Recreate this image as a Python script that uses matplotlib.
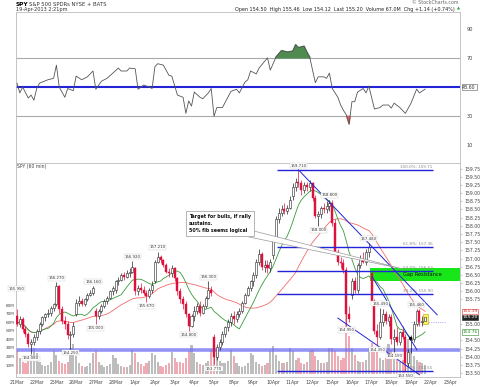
import matplotlib
matplotlib.use("Agg")
import matplotlib.pyplot as plt
from matplotlib.patches import Rectangle, Polygon
import numpy as np
import pandas as pd

# hourly bars, 21Mar .. 19Apr 2013 (7 bars per day, last day partial)
opens = [
    155.25, 155.00, 155.15, 154.85, 154.70, 154.40, 154.45,
    154.60, 154.80, 155.00, 155.20, 155.30, 155.35, 155.50,
    155.60, 156.15, 155.45, 155.10, 155.00, 154.65, 154.70,
    155.30, 155.65, 155.70, 155.60, 155.75, 155.90, 155.95,
    155.40, 155.25, 155.40, 155.55, 155.70, 155.80, 156.00,
    156.05, 156.30, 156.35, 156.50, 156.45, 156.55, 156.60,
    156.70, 156.00, 156.10, 156.05, 155.95, 155.85, 156.05,
    156.30, 156.90, 157.05, 156.95, 156.80, 156.60, 156.55,
    156.70, 156.40, 156.00, 155.75, 155.60, 155.30, 154.95,
    155.25, 155.40, 155.55, 155.35, 155.55, 155.80, 156.05,
    154.60, 154.00, 154.30, 154.45, 154.70, 154.90, 155.05,
    155.25, 155.15, 155.30, 155.40, 155.65, 155.90, 156.10,
    156.30, 156.50, 156.90, 157.15, 156.75, 156.80, 156.70,
    157.10, 157.60, 158.20, 158.40, 158.50, 158.45, 158.55,
    158.90, 159.20, 159.35, 159.30, 159.10, 159.25, 159.20,
    159.30, 158.85, 158.30, 158.35, 158.55, 158.50, 158.60,
    158.70, 158.10, 157.20, 156.90, 156.85, 156.65, 155.30,
    155.90, 156.30, 156.05, 156.80, 157.00, 156.90, 157.20,
    156.55, 155.70, 154.80, 154.60, 155.05, 155.30, 155.10,
    155.20, 154.55, 154.60, 154.45, 154.75, 154.60, 153.80,
    154.50, 154.55, 155.00, 155.40, 155.05, 155.10,
]
highs = [
    155.45, 155.25, 155.20, 154.95, 154.75, 154.55, 154.70,
    154.85, 155.05, 155.25, 155.35, 155.45, 155.55, 155.65,
    156.27, 156.20, 155.55, 155.25, 155.10, 154.80, 155.05,
    155.75, 155.85, 155.80, 155.80, 155.95, 156.05, 156.16,
    155.50, 155.45, 155.60, 155.75, 155.85, 156.05, 156.15,
    156.35, 156.45, 156.55, 156.60, 156.65, 156.70, 156.92,
    156.75, 156.20, 156.25, 156.15, 156.05, 156.10, 156.30,
    156.95, 157.21, 157.10, 157.00, 156.85, 156.70, 156.80,
    156.75, 156.45, 156.10, 155.85, 155.70, 155.35, 155.30,
    155.55, 155.65, 155.70, 155.60, 155.85, 156.30, 156.15,
    154.70, 154.40, 154.55, 154.80, 154.95, 155.15, 155.35,
    155.40, 155.40, 155.50, 155.70, 155.95, 156.15, 156.35,
    156.60, 157.00, 157.30, 157.20, 156.95, 156.95, 157.00,
    157.70, 158.30, 158.55, 158.65, 158.70, 158.65, 158.90,
    159.30, 159.45, 159.71, 159.40, 159.35, 159.35, 159.40,
    159.35, 158.95, 158.45, 158.60, 158.70, 158.75, 158.80,
    158.80, 158.20, 157.30, 157.05, 157.00, 156.75, 155.55,
    156.40, 156.45, 156.85, 157.10, 157.20, 157.30, 157.48,
    156.60, 155.75, 155.00, 155.49, 155.45, 155.40, 155.30,
    155.30, 154.85, 154.90, 154.80, 154.95, 154.70, 154.25,
    154.65, 155.10, 155.46, 155.45, 155.25, 155.25,
]
lows = [
    154.95, 154.90, 154.75, 154.60, 154.30, 154.08, 154.35,
    154.50, 154.70, 154.95, 155.10, 155.20, 155.25, 155.40,
    155.55, 155.35, 155.00, 154.85, 154.55, 154.25, 154.60,
    155.25, 155.55, 155.55, 155.55, 155.70, 155.85, 155.90,
    155.00, 155.15, 155.35, 155.50, 155.60, 155.75, 155.90,
    155.95, 156.20, 156.30, 156.35, 156.40, 156.45, 156.55,
    155.90, 155.90, 155.95, 155.90, 155.67, 155.80, 155.95,
    156.25, 156.85, 156.85, 156.75, 156.55, 156.45, 156.45,
    156.30, 155.90, 155.65, 155.45, 155.20, 154.80, 154.90,
    155.10, 155.30, 155.25, 155.30, 155.50, 155.75, 155.85,
    153.77, 153.90, 154.20, 154.35, 154.60, 154.80, 154.95,
    155.00, 155.05, 155.20, 155.35, 155.60, 155.85, 156.00,
    156.15, 156.40, 156.80, 156.65, 156.60, 156.55, 156.60,
    157.00, 157.55, 158.10, 158.30, 158.35, 158.35, 158.50,
    158.80, 159.05, 159.20, 158.95, 159.00, 159.05, 159.05,
    158.75, 158.25, 158.00, 158.25, 158.40, 158.40, 158.45,
    158.00, 157.15, 156.80, 156.70, 156.55, 154.95, 155.05,
    155.75, 155.95, 155.95, 156.70, 156.85, 156.80, 157.05,
    155.60, 154.70, 154.35, 154.55, 154.95, 155.00, 154.95,
    154.40, 154.15, 154.35, 154.35, 154.55, 153.55, 153.70,
    154.12, 154.45, 154.95, 154.95, 154.95, 155.05,
]
closes = [
    155.00, 155.15, 154.85, 154.70, 154.40, 154.45, 154.60,
    154.80, 155.00, 155.20, 155.30, 155.35, 155.50, 155.60,
    156.15, 155.45, 155.10, 155.00, 154.65, 154.70, 154.95,
    155.65, 155.70, 155.60, 155.75, 155.90, 155.95, 156.10,
    155.25, 155.40, 155.55, 155.70, 155.80, 156.00, 156.10,
    156.30, 156.35, 156.50, 156.45, 156.55, 156.60, 156.75,
    156.00, 156.10, 156.05, 155.95, 155.85, 156.05, 156.20,
    156.90, 157.05, 156.95, 156.80, 156.60, 156.55, 156.70,
    156.40, 156.00, 155.75, 155.60, 155.30, 154.95, 155.25,
    155.40, 155.55, 155.35, 155.55, 155.80, 156.05, 155.95,
    154.00, 154.30, 154.45, 154.70, 154.90, 155.05, 155.25,
    155.15, 155.30, 155.40, 155.65, 155.90, 156.10, 156.30,
    156.50, 156.90, 157.15, 156.75, 156.80, 156.70, 156.90,
    157.60, 158.20, 158.40, 158.50, 158.45, 158.55, 158.80,
    159.20, 159.35, 159.30, 159.10, 159.25, 159.20, 159.30,
    158.85, 158.30, 158.35, 158.55, 158.50, 158.60, 158.70,
    158.10, 157.20, 156.90, 156.85, 156.65, 155.30, 155.15,
    156.30, 156.05, 156.80, 157.00, 156.90, 157.20, 157.35,
    155.70, 154.80, 154.60, 155.05, 155.30, 155.10, 155.20,
    154.55, 154.60, 154.45, 154.75, 154.60, 153.80, 154.15,
    154.55, 155.00, 155.40, 155.05, 155.10, 155.20,
]
volumes = [  # millions
    28, 18, 14, 12, 15, 22, 30,
    24, 14, 10, 9, 10, 13, 26,
    22, 15, 12, 11, 14, 30, 34,
    20, 12, 9, 8, 9, 12, 24,
    26, 14, 10, 8, 9, 11, 22,
    18, 11, 9, 8, 8, 10, 28,
    24, 14, 11, 9, 12, 15, 24,
    22, 13, 9, 8, 10, 12, 25,
    18, 14, 13, 12, 18, 26, 33,
    24, 14, 11, 10, 12, 15, 28,
    40, 24, 15, 12, 12, 15, 28,
    20, 12, 9, 8, 9, 12, 24,
    22, 14, 11, 9, 10, 12, 26,
    32, 22, 15, 12, 12, 14, 30,
    26, 16, 18, 12, 11, 13, 26,
    28, 20, 16, 12, 12, 14, 30,
    30, 26, 20, 16, 18, 74, 44,
    30, 22, 15, 14, 14, 16, 30,
    36, 28, 26, 18, 16, 18, 34,
    28, 20, 16, 14, 16, 38, 40,
    30, 20, 16, 14, 12, 10,
]

# RSI(14) (bar number, value)
rsi_bar = [0, 1, 2, 4, 5, 6, 7, 8, 11, 13, 14, 15, 17, 18, 20, 21, 23, 25, 27, 28,
           30, 32, 36, 37, 39, 40, 42, 43, 45, 47, 48, 49, 50, 52, 54, 55, 57, 59, 60,
           61, 62, 63, 65, 66, 68, 69, 70, 71, 73, 76, 78, 79, 81, 82, 83, 85, 86, 89,
           90, 92, 94, 96, 98, 99, 100, 102, 103, 104, 106, 107, 109, 110, 111, 112,
           114, 115, 116, 117, 118, 119, 120, 121, 123, 124, 125, 127, 129, 130, 132,
           133, 134, 136, 137, 138, 140, 142, 143, 145]
rsi_val = [52.6, 46, 50, 42.5, 44.5, 41, 49, 52.7, 55, 56, 65, 50, 43, 49, 47.5, 57.5, 55,
           57, 61, 48.5, 54, 56, 63, 61, 61, 63, 62.5, 48.5, 51.4, 50, 49, 64, 66, 65,
           58, 57.5, 44.5, 43, 32, 40.5, 37, 46.6, 43, 42, 46, 49, 30, 36, 36, 47, 48.5,
           46, 53.4, 55, 61, 59, 63, 70, 61.6, 70.5, 75, 74, 74.6, 79, 77, 78, 74, 70.5,
           53, 57, 57, 56, 59.6, 49, 43, 37.7, 34, 31, 24.7, 40, 40, 46.6, 49, 46, 50.7,
           35, 36, 37.7, 37.7, 35.6, 39, 36, 34, 32, 39, 48.6, 46, 48.6]

day_labels = ['21Mar', '22Mar', '25Mar', '26Mar', '27Mar', '28Mar', '1Apr', '2Apr',
              '3Apr', '4Apr', '5Apr', '8Apr', '9Apr', '10Apr', '11Apr', '12Apr',
              '15Apr', '16Apr', '17Apr', '18Apr', '19Apr', '22Apr', '23Apr']
bars_per_day = 7
fast_ma, slow_ma = 10, 30

# swing labels: (bar, 'H' or 'L')
swing_marks = [(5, 'L'), (14, 'H'), (19, 'L'), (27, 'H'), (28, 'L'), (41, 'H'), (46, 'L'),
               (50, 'H'), (61, 'L'), (68, 'H'), (70, 'L'), (100, 'H'), (107, 'L'),
               (111, 'H'), (117, 'L'), (125, 'H'), (128, 'L'), (129, 'H'), (134, 'L'),
               (138, 'L'), (142, 'H')]
edge_label = 155.95  # high label of the bar cut off at the left edge
fib_ratios = [1.0, 0.618, 0.5, 0.382, 0.0]
gap_zone = (156.31, 156.71)
support_level = 154.21

W, H = 480, 387
fig = plt.figure(figsize=(W / 100, H / 100), dpi=100)


def rect(x0, y0, x1, y1):
    return [x0 / W, 1 - y1 / H, (x1 - x0) / W, (y1 - y0) / H]


def fpos(x, y):
    return x / W, 1 - y / H


idx = np.arange(len(closes))
o = np.array(opens); h = np.array(highs); l = np.array(lows); c = np.array(closes)
xlim = (-0.36, 157.4)

# ---------------- RSI panel ----------------
ax_r = fig.add_axes(rect(16, 12, 460, 163))
rb = np.array(rsi_bar); rv = np.array(rsi_val)
ax_r.plot(rb, rv, color='#555555', lw=0.6, zorder=3)
ax_r.fill_between(rb, rv, 70, where=rv >= 70, interpolate=True, color='#4f8a4f', zorder=2)
ax_r.fill_between(rb, rv, 30, where=rv <= 30, interpolate=True, color='#e06060', zorder=2)
for lvl in (70, 30):
    ax_r.axhline(lvl, color='#aaaaaa', lw=0.8, zorder=1)
ax_r.axhline(50, color='#2323d8', lw=1.5, zorder=1)
ax_r.set_xlim(*xlim)
ax_r.set_ylim(-2, 101.4)
ax_r.set_xticks([])
ax_r.yaxis.tick_right()
ax_r.set_yticks([90, 70, 30, 10])
ax_r.tick_params(axis='y', labelsize=3.6, length=0, pad=5, labelcolor='#444444')
for s in ax_r.spines.values():
    s.set_color('#bbbbbb'); s.set_linewidth(0.6)
ax_r.text(1.005, 50, '%.2f' % rsi_val[-1], transform=ax_r.get_yaxis_transform(),
          fontsize=3.4, va='center', ha='left', color='#333333',
          bbox=dict(boxstyle='square,pad=0.15', fc='white', ec='#555555', lw=0.4))

# ---------------- volume (behind price) ----------------
ax_v = fig.add_axes(rect(16, 163, 460, 377))
up = c >= o
ax_v.bar(idx, volumes, width=0.75, color=np.where(up, '#bdbdbd', '#f0aab3'), zorder=1)
ax_v.set_xlim(*xlim)
ax_v.set_ylim(-4, 246)
ax_v.set_yticks([10, 20, 30, 40, 50, 60, 70, 80])
ax_v.set_yticklabels(['%dM' % v for v in [10, 20, 30, 40, 50, 60, 70, 80]])
ax_v.tick_params(axis='y', labelsize=3.0, length=0, pad=1, labelcolor='#444444')
ax_v.set_xticks([])
for s in ax_v.spines.values():
    s.set_visible(False)

# ---------------- price panel ----------------
ax = fig.add_axes(rect(16, 163, 460, 377))
ax.patch.set_visible(False)
ax.set_xlim(*xlim)
ax.set_ylim(153.38, 159.92)

ma_fast = pd.Series(closes).rolling(fast_ma, min_periods=1).mean()
ma_slow = pd.Series(closes).rolling(slow_ma, min_periods=1).mean()
ax.plot(idx, ma_slow, color='#f26b6b', lw=0.6, zorder=3)
ax.plot(idx, ma_fast, color='#3a9a3a', lw=0.6, zorder=3)

# support band
ax.axhline(support_level, color='#6f6ff5', lw=2.6, alpha=0.75, zorder=2)

# gap resistance zone
ax.add_patch(Rectangle((125.4, gap_zone[0]), xlim[1] - 125.4, gap_zone[1] - gap_zone[0],
                       color='#19e619', zorder=2.5, lw=0))
ax.text(137, sum(gap_zone) / 2, 'Gap Resistance', fontsize=3.6, va='center',
        ha='left', color='#111111', zorder=6)

# candles
wick_col = np.where(up, '#222222', '#e0103c')
ax.vlines(idx, l, h, colors=wick_col, lw=0.5, zorder=4)
body_lo = np.minimum(o, c); body_h = np.maximum(np.abs(c - o), 0.02)
ax.bar(idx[up], body_h[up], bottom=body_lo[up], width=0.72, color='white',
       edgecolor='#222222', lw=0.4, zorder=5)
ax.bar(idx[~up], body_h[~up], bottom=body_lo[~up], width=0.72, color='#e0103c',
       edgecolor='#e0103c', lw=0.3, zorder=5)

# last bar highlight
ax.add_patch(Rectangle((idx[-1] - 0.9, l[-1] - 0.05), 1.8, h[-1] - l[-1] + 0.1,
                       fc='#fff35a', ec='#b8a000', lw=0.4, zorder=4.5))
ax.hlines(l[-1], idx[-6], idx[-1] + 7, colors='#8a8aff', lw=0.6, linestyles=':', zorder=3)

# fibonacci retracement
hi, lo = max(highs), min(lows)
for r in fib_ratios:
    lvl = lo + r * (hi - lo)
    ax.hlines(lvl, 92.4, 147.8, colors='#2323d8', lw=1.0, zorder=6)
    ax.text(147.6, lvl + 0.03, '%.1f%%: %.2f' % (r * 100, lvl), fontsize=3.0,
            color='#888888', ha='right', va='bottom', zorder=6)

# trendlines
ax.plot([100, 149.3], [159.71, 155.28], color='#2323d8', lw=0.7, zorder=6)
ax.plot([114, 143], [155.18, 153.45], color='#2323d8', lw=0.7, zorder=6)
ax.plot([126.2, 142.1], [156.44, 154.21], color='#2323d8', lw=0.7, zorder=6)
ax.plot([139.7], [154.57], 'o', color='black', ms=1.3, zorder=7)

# callout pointer + box
ax.add_patch(Polygon([(82.4, 157.88), (82.4, 157.66), (137.2, 156.68)], closed=True,
                     fc='white', ec='#999999', lw=0.5, zorder=6))
fig.text(*fpos(189, 214), 'Target for bulls, if rally\nsustains.\n50% fib seems logical',
         fontsize=3.4, fontweight='bold', va='top', ha='left', linespacing=1.5,
         color='#111111', zorder=8,
         bbox=dict(boxstyle='square,pad=0.6', fc='white', ec='#999999', lw=0.5))

# swing labels
lab_box = dict(boxstyle='square,pad=0.15', fc='white', ec='#cccccc', lw=0.3)
for b, kind in swing_marks:
    if kind == 'H':
        ax.text(b, highs[b] + 0.07, '%.3f' % highs[b], fontsize=2.8, ha='center',
                va='bottom', color='#333333', zorder=7, bbox=lab_box)
    else:
        ax.text(b, lows[b] - 0.07, '%.3f' % lows[b], fontsize=2.8, ha='center',
                va='top', color='#333333', zorder=7, bbox=lab_box)
ax.text(-0.2, edge_label + 0.07, '%.3f' % edge_label, fontsize=2.8, ha='center',
        va='bottom', color='#333333', zorder=7, bbox=lab_box, clip_on=False)

ax.text(0.002, 0.995, 'SPY (60 min)', transform=ax.transAxes, fontsize=3.3,
        va='top', ha='left', color='#444444')

# right-axis value boxes; plain ticks too close to a box are dropped
box_vals = [(ma_slow.iloc[-1], 'white', '#e03030', '#e03030'),
            (closes[-1], '#222222', '#222222', 'white'),
            (ma_fast.iloc[-1], 'white', '#2a8a2a', '#2a8a2a')]
ticks = [t for t in np.arange(153.50, 159.76, 0.25)
         if all(abs(t - bv[0]) > 0.15 for bv in box_vals)]
ax.yaxis.tick_right()
ax.set_yticks(ticks)
ax.set_yticklabels(['%.2f' % t for t in ticks])
ax.tick_params(axis='y', labelsize=3.3, length=1.5, width=0.4, color='#999999',
               pad=1.5, labelcolor='#444444')
ax.set_xticks([k * bars_per_day for k in range(len(day_labels))])
ax.set_xticklabels(day_labels)
ax.tick_params(axis='x', labelsize=3.3, length=0, pad=2.5, labelcolor='#444444')
for s in ax.spines.values():
    s.set_color('#bbbbbb'); s.set_linewidth(0.6)

ytr = ax.get_yaxis_transform()
for val, fc, ec, tc in box_vals:
    ax.text(1.005, val, '%.2f' % val, transform=ytr, fontsize=3.2, va='center',
            ha='left', color=tc, zorder=9,
            bbox=dict(boxstyle='square,pad=0.15', fc=fc, ec=ec, lw=0.4))

# header
fig.text(*fpos(16, 4), 'SPY', fontsize=4.2, fontweight='bold', va='center', ha='left')
fig.text(*fpos(29, 4), 'S&P 500 SPDRs NYSE + BATS', fontsize=3.8, va='center',
         ha='left', color='#333333')
fig.text(*fpos(16, 10), '19-Apr-2013 2:21pm', fontsize=3.6, va='center', ha='left',
         color='#333333')
fig.text(*fpos(459, 3), '\u00a9 StockCharts.com', fontsize=3.4, va='center', ha='right',
         color='#666666')
fig.text(*fpos(455, 9), 'Open 154.50  High 155.46  Low 154.12  Last 155.20  '
         'Volume 67.0M  Chg +1.14 (+0.74%)', fontsize=3.5, va='center', ha='right',
         color='#222222')
fig.text(*fpos(457, 9), '\u25b2', fontsize=2.8, va='center', ha='left', color='#2a9a2a')

fig.savefig('out.png', dpi=100)
